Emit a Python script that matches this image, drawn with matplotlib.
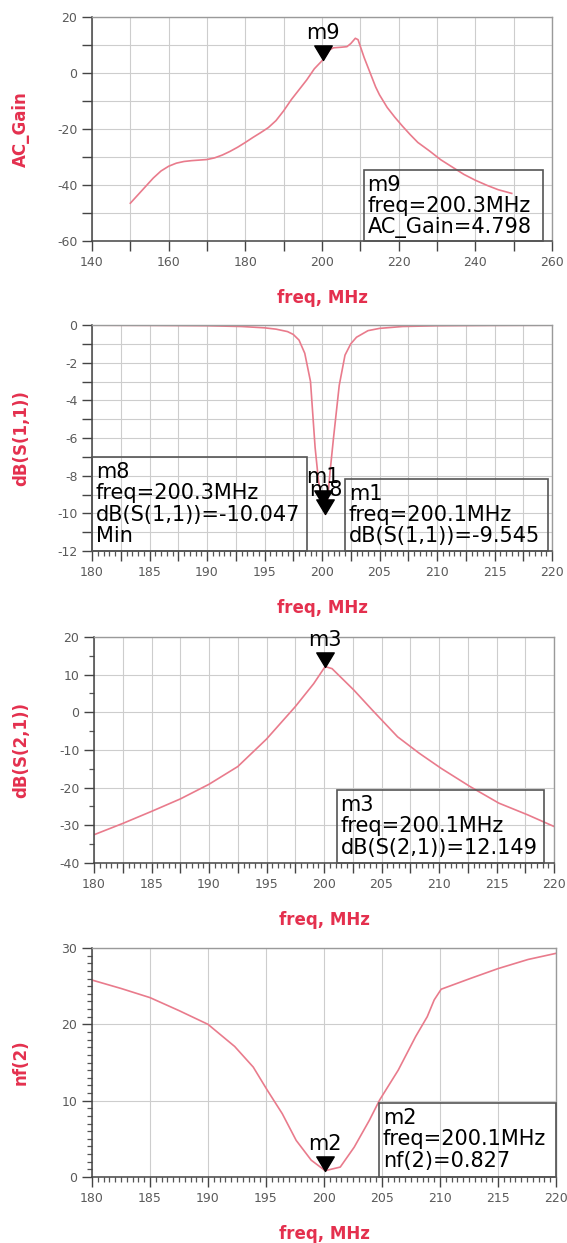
import matplotlib
matplotlib.use("Agg")
import matplotlib.pyplot as plt
from matplotlib.ticker import MultipleLocator, FuncFormatter
from matplotlib.path import Path
from matplotlib.patches import Rectangle

plt.rcParams['font.family'] = ['DejaVu Sans']
plt.rcParams['axes.unicode_minus'] = False

# ---------------- data ----------------
ac_freq = [150, 152, 154, 156, 158, 160, 162, 164, 166, 168, 170, 172, 174, 176, 178,
           180, 182, 184, 186, 188, 190, 192, 194, 196, 198, 200.3, 202, 203, 205, 206.5,
           207.5, 208.7, 209.4, 210, 211, 212, 213, 214, 215, 217, 219, 221, 223, 225,
           228, 231, 234, 237, 240, 243, 246, 249.5]
ac_gain = [-46.5, -43.5, -40.5, -37.5, -35.0, -33.3, -32.2, -31.6, -31.3, -31.1, -30.9,
           -30.3, -29.3, -28.0, -26.5, -24.8, -23.0, -21.3, -19.5, -17.0, -13.5, -9.5,
           -6.0, -2.5, 1.5, 4.798, 8.3, 9.0, 9.2, 9.4, 10.5, 12.4, 11.9, 9.5, 5.5, 2.0,
           -1.5, -5.0, -7.8, -12.3, -15.8, -19.0, -22.0, -24.8, -27.8, -31.0, -33.6,
           -36.2, -38.3, -40.1, -41.7, -43.0]

s11_freq = [180, 185, 190, 193, 195, 196, 197, 197.5, 198, 198.5, 199, 199.4, 199.7,
            200.0, 200.1, 200.3, 200.5, 200.7, 201.0, 201.5, 202, 202.5, 203, 204, 205,
            207, 210, 215, 220]
s11_db = [-0.01, -0.02, -0.04, -0.08, -0.15, -0.22, -0.35, -0.5, -0.8, -1.5, -3.0,
          -6.5, -8.3, -9.3, -9.545, -10.047, -9.2, -7.8, -6.0, -3.2, -1.6, -1.0, -0.65,
          -0.3, -0.18, -0.08, -0.04, -0.02, -0.01]

s21_freq = [180, 182.5, 185, 187.5, 190, 192.5, 195, 197.5, 199.1, 200.1, 200.7, 202.6,
            204.2, 206.4, 208.3, 210.2, 212.7, 215.2, 217.7, 220]
s21_db = [-32.5, -29.5, -26.3, -23.0, -19.1, -14.4, -7.1, 1.5, 7.6, 12.149, 11.6, 5.9,
          0.6, -6.5, -10.9, -14.9, -19.7, -24.1, -27.2, -30.3]

nf_freq = [180, 182.5, 185, 187.5, 190, 192.3, 193.9, 195.1, 196.4, 197.6, 198.9, 200.1,
           201.4, 202.6, 203.9, 204.8, 206.4, 207.9, 208.9, 209.5, 210.1, 212.6, 215.0,
           217.6, 220]
nf_val = [25.8, 24.7, 23.5, 21.8, 20.0, 17.1, 14.4, 11.4, 8.3, 4.8, 2.2, 0.827, 1.3,
          3.9, 7.4, 10.1, 14.0, 18.4, 21.0, 23.2, 24.6, 26.0, 27.3, 28.5, 29.3]

m9 = (200.3, 4.798)
m8 = (200.3, -10.047)
m1 = (200.1, -9.545)
m3 = (200.1, 12.149)
m2 = (200.1, 0.827)

# ---------------- style ----------------
LINE = '#e97b8c'
RED = '#e4304e'
TICKC = '#5a5a5a'
GRID = '#cdcdcd'
BOXFS = 15

tri = Path([(-0.6, 1.0), (0.6, 1.0), (0.0, 0.0), (-0.6, 1.0)],
           [Path.MOVETO, Path.LINETO, Path.LINETO, Path.CLOSEPOLY])

W, H = 567, 1243
fig = plt.figure(figsize=(W / 100, H / 100), dpi=100)


def make_ax(left, right, top, bottom):
    return fig.add_axes([left / W, 1 - bottom / H, (right - left) / W, (bottom - top) / H])


def style(ax, xlim, ylim, xgrid, xlab, ygrid, ylab, xminor, yminor, ylabel):
    ax.set_xlim(*xlim)
    ax.set_ylim(*ylim)
    ax.xaxis.set_major_locator(MultipleLocator(xgrid))
    ax.yaxis.set_major_locator(MultipleLocator(ygrid))
    ax.xaxis.set_major_formatter(FuncFormatter(
        lambda v, p: ('%g' % v) if abs(v / xlab - round(v / xlab)) < 1e-6 else ''))
    ax.yaxis.set_major_formatter(FuncFormatter(
        lambda v, p: ('%g' % v) if abs(v / ylab - round(v / ylab)) < 1e-6 else ''))
    if xminor:
        ax.xaxis.set_minor_locator(MultipleLocator(xminor))
    if yminor:
        ax.yaxis.set_minor_locator(MultipleLocator(yminor))
    ax.grid(True, which='major', color=GRID, lw=0.8)
    ax.set_axisbelow(True)
    ax.tick_params(which='major', direction='out', length=7, width=1.0, color='#444444',
                   labelsize=9, labelcolor=TICKC)
    ax.tick_params(which='minor', direction='out', length=3.5, width=0.9, color='#555555')
    for s in ('left', 'bottom'):
        ax.spines[s].set_color('#444444')
        ax.spines[s].set_linewidth(1.1)
    for s in ('top', 'right'):
        ax.spines[s].set_color('#9a9a9a')
        ax.spines[s].set_linewidth(1.0)
    ax.set_xlabel('freq, MHz', color=RED, fontsize=12, fontweight='bold')
    ax.set_ylabel(ylabel, color=RED, fontsize=12, fontweight='bold')
    bb = ax.get_position()
    hpx = bb.height * H
    wpx = bb.width * W
    ax.xaxis.set_label_coords(0.5, -48 / hpx)
    ax.yaxis.set_label_coords((30 - bb.x0 * W) / wpx, 0.5)


def marker(ax, pt, name, dy=16):
    ax.plot([pt[0]], [pt[1]], marker=tri, markersize=21, color='black', ls='none',
            zorder=5, clip_on=False)
    ax.annotate(name, xy=pt, xytext=(0, dy), textcoords='offset points',
                ha='center', va='bottom', fontsize=BOXFS, color='black', zorder=6)


def box(ax, x0, x1, y1, text):
    ax.add_patch(Rectangle((x0, 0), x1 - x0, y1, transform=ax.transAxes,
                           facecolor='none', edgecolor='#555555', lw=1.2, zorder=7,
                           clip_on=False))
    ax.text(x0 + 0.008, y1 - 0.022, text, transform=ax.transAxes, ha='left', va='top',
            fontsize=BOXFS, color='black', linespacing=1.08, zorder=8)


# ---- plot 1: AC gain ----
ax1 = make_ax(92, 552, 17, 241)
ax1.plot(ac_freq, ac_gain, color=LINE, lw=1.2)
style(ax1, (140, 260), (-60, 20), 10, 20, 10, 20, None, None, 'AC_Gain')
marker(ax1, m9, 'm9', dy=12)
box(ax1, 0.591, 0.980, 0.317, 'm9\nfreq=200.3MHz\nAC_Gain=4.798')

# ---- plot 2: S11 ----
ax2 = make_ax(92, 552, 325, 551)
ax2.plot(s11_freq, s11_db, color=LINE, lw=1.2)
style(ax2, (180, 220), (-12, 0), 2.5, 5, 1, 2, 0.5, None, 'dB(S(1,1))')
box(ax2, 0.0, 0.467, 0.416, 'm8\nfreq=200.3MHz\ndB(S(1,1))=-10.047\nMin')
box(ax2, 0.55, 0.991, 0.319, 'm1\nfreq=200.1MHz\ndB(S(1,1))=-9.545')
marker(ax2, m8, 'm8', dy=10)
marker(ax2, m1, 'm1', dy=13)

# ---- plot 3: S21 ----
ax3 = make_ax(94, 554, 637, 863)
ax3.plot(s21_freq, s21_db, color=LINE, lw=1.2)
style(ax3, (180, 220), (-40, 20), 2.5, 5, 10, 10, 0.5, 5, 'dB(S(2,1))')
marker(ax3, m3, 'm3', dy=12)
box(ax3, 0.528, 0.978, 0.323, 'm3\nfreq=200.1MHz\ndB(S(2,1))=12.149')

# ---- plot 4: NF ----
ax4 = make_ax(92, 556, 948, 1177)
ax4.plot(nf_freq, nf_val, color=LINE, lw=1.2)
style(ax4, (180, 220), (0, 30), 5, 5, 10, 10, 0.5, 1, 'nf(2)')
marker(ax4, m2, 'm2', dy=12)
box(ax4, 0.619, 1.0, 0.323, 'm2\nfreq=200.1MHz\nnf(2)=0.827')

fig.savefig('out.png', dpi=100)
